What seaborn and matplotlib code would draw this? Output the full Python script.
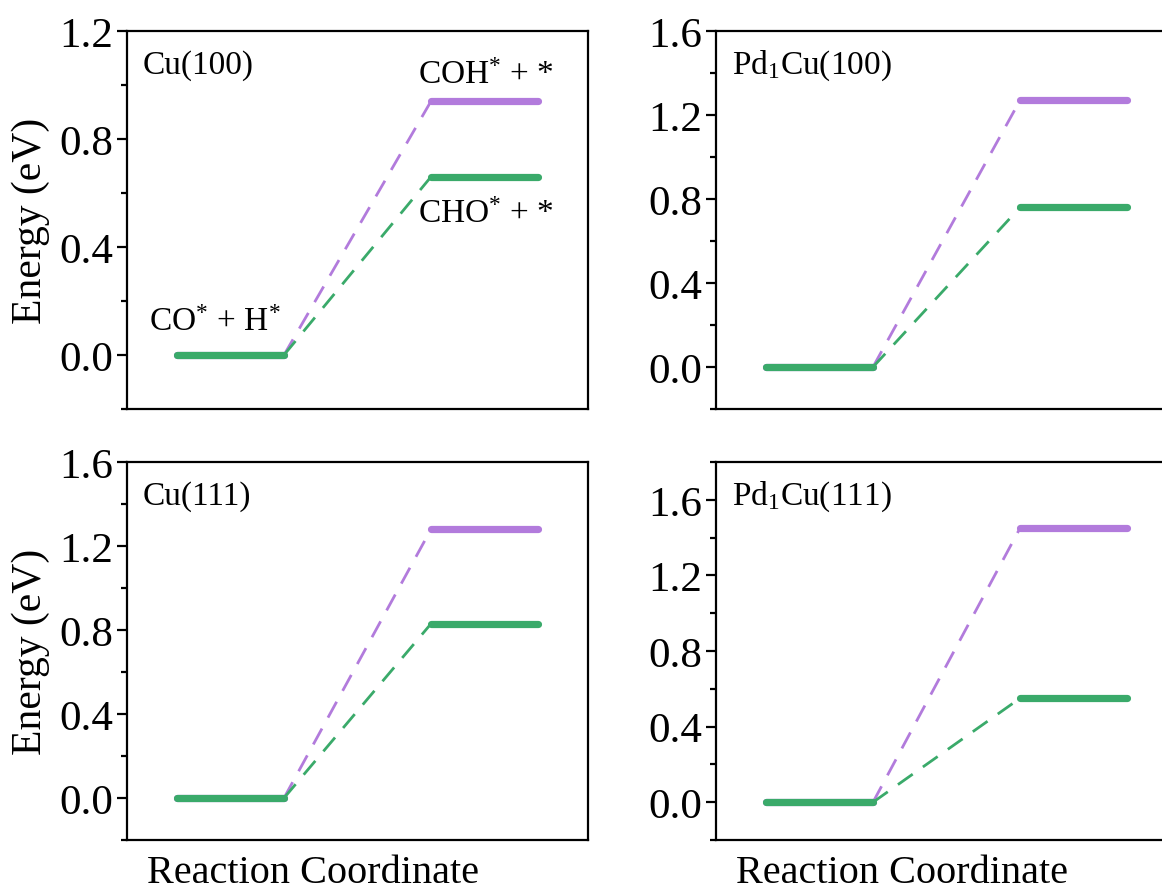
import numpy as np
import pandas as pd
import matplotlib
matplotlib.use("Agg")
import matplotlib.pyplot as plt
from matplotlib.ticker import MultipleLocator, FormatStrFormatter
import seaborn as sns

# ---------------- data ----------------
panel_names = ["Cu(100)", "Pd$_1$Cu(100)", "Cu(111)", "Pd$_1$Cu(111)"]
e_initial = [0.0, 0.0, 0.0, 0.0]          # CO* + H*
e_coh = [0.94, 1.27, 1.28, 1.45]          # COH* + *
e_cho = [0.66, 0.76, 0.83, 0.55]          # CHO* + *
species = ["COH", "CHO"]
species_colors = {"COH": "#B27BDC", "CHO": "#3AAA6A"}

# ---------------- style ----------------
sns.set_theme(style="ticks")
plt.rcParams["font.family"] = ["Liberation Serif", "DejaVu Serif"]
plt.rcParams["mathtext.fontset"] = "custom"
plt.rcParams["mathtext.rm"] = "Liberation Serif"
plt.rcParams["mathtext.it"] = "Liberation Serif:italic"
plt.rcParams["mathtext.bf"] = "Liberation Serif:bold"
plt.rcParams["axes.linewidth"] = 1.6
plt.rcParams["axes.edgecolor"] = "black"
plt.rcParams["text.color"] = "black"
plt.rcParams["axes.labelcolor"] = "black"
plt.rcParams["xtick.color"] = "black"
plt.rcParams["ytick.color"] = "black"

fig = plt.figure(figsize=(11.62, 8.95), dpi=100)
W, H = 0.3967, 0.4223
positions = [(0.1093, 0.5419), (0.6162, 0.5419), (0.1093, 0.0603), (0.6162, 0.0603)]
ylims = [(-0.2, 1.2), (-0.2, 1.6), (-0.2, 1.6), (-0.2, 1.8)]

# reaction coordinate layout (level width 1, connector span)
x_lvl1 = (0.0, 1.0)
x_lvl2 = (2.374, 3.374)
xlim = (-0.467, 3.841)

for i, (pos, name) in enumerate(zip(positions, panel_names)):
    ax = fig.add_axes([pos[0], pos[1], W, H])
    finals = {"COH": e_coh[i], "CHO": e_cho[i]}
    for sp in species:
        e0, e1 = e_initial[i], finals[sp]
        lv = pd.DataFrame({
            "x": [x_lvl1[0], x_lvl1[1], x_lvl2[0], x_lvl2[1]],
            "E": [e0, e0, e1, e1],
            "seg": [0, 0, 1, 1],
        })
        ln = pd.DataFrame({"x": [x_lvl1[1], x_lvl2[0]], "E": [e0, e1], "seg": [0, 0]})
        sns.lineplot(data=ln, x="x", y="E", units="seg", estimator=None, sort=False,
                     color=species_colors[sp], linewidth=2.0, dashes=False,
                     linestyle=(0, (6.5, 4.5)), ax=ax, legend=False)
        sns.lineplot(data=lv, x="x", y="E", units="seg", estimator=None, sort=False,
                     color=species_colors[sp], linewidth=5.2, ax=ax, legend=False,
                     solid_capstyle="round")
    ax.set_xlim(*xlim)
    ax.set_ylim(*ylims[i])
    ax.set_xticks([])
    ax.yaxis.set_major_locator(MultipleLocator(0.4))
    ax.yaxis.set_minor_locator(MultipleLocator(0.2))
    ax.yaxis.set_major_formatter(FormatStrFormatter("%.1f"))
    ax.tick_params(axis="y", which="major", direction="out", length=7, width=1.6,
                   labelsize=31, pad=3, colors="black")
    ax.tick_params(axis="y", which="minor", direction="out", length=4, width=1.6,
                   colors="black")
    for s in ax.spines.values():
        s.set_visible(True)
        s.set_linewidth(1.6)
        s.set_color("black")
    ax.text(0.034, 0.912, name, transform=ax.transAxes, fontsize=24,
            ha="left", va="center", color="black")
    if i % 2 == 0:
        ax.set_ylabel("Energy (eV)", fontsize=30, color="black")
        ax.yaxis.set_label_coords(-0.168, 0.5)
    else:
        ax.set_ylabel("")
    if i >= 2:
        ax.set_xlabel("Reaction Coordinate", fontsize=29, x=0.403, labelpad=10,
                      color="black")
    else:
        ax.set_xlabel("")
    if i == 0:
        ax.text(2.89, 1.04, "COH$^{*}$ + *", fontsize=24, ha="center", va="center")
        ax.text(2.89, 0.525, "CHO$^{*}$ + *", fontsize=24, ha="center", va="center")
        ax.text(0.35, 0.125, "CO$^{*}$ + H$^{*}$", fontsize=24, ha="center", va="center")

fig.savefig("out.png", dpi=100)
